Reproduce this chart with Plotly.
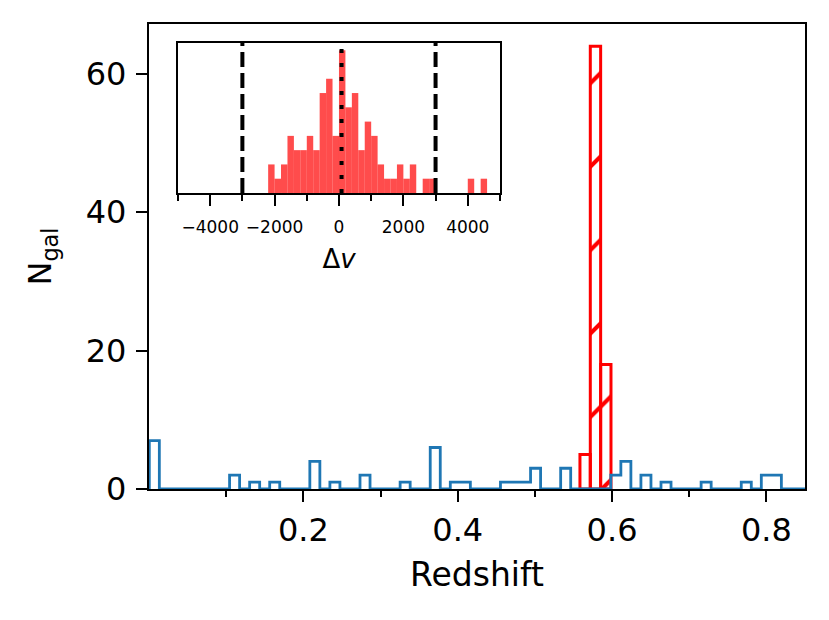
import plotly.graph_objects as go

# ---------------- data ----------------
# Main panel: redshift histogram of all galaxies (step outline)
BLUE_BIN_START = 0.0004
BLUE_BIN_WIDTH = 0.013
blue_counts = [7, 0, 0, 0, 0, 0, 0, 0, 2, 0,
               1, 0, 1, 0, 0, 0, 4, 0, 1, 0,
               0, 2, 0, 0, 0, 1, 0, 0, 6, 0,
               1, 1, 0, 0, 0, 1, 1, 1, 3, 0,
               0, 3, 0, 0, 0, 0, 2, 4, 0, 2,
               0, 1, 0, 0, 0, 1, 0, 0, 0, 1,
               0, 2, 2, 0, 0, 0]

# Cluster members (hatched red bars)
RED_BIN_START = 0.5584
RED_BIN_WIDTH = 0.0134
red_counts = [5, 64, 18]

# Inset: velocity offsets of members
DV_BIN_START = -2200
DV_BIN_WIDTH = 200
dv_counts = [2, 1, 2, 4, 3, 3, 4, 3, 7, 8,
             4, 10, 6, 7, 3, 5, 4, 2, 1, 1,
             2, 1, 2, 0, 1, 1, 0, 0, 0, 0,
             0, 1, 0, 1]
dv_limits = [-3000, 3000]
dv_mean = 80

x_ticks = [0.2, 0.4, 0.6, 0.8]
x_ticktext = ["0.2", "0.4", "0.6", "0.8"]
x_minor = [0.1, 0.3, 0.5, 0.7]
y_ticks = [0, 20, 40, 60]
dv_ticks = [-4000, -2000, 0, 2000, 4000]
dv_ticktext = ["\u22124000", "\u22122000", "0", "2000", "4000"]
dv_minor = [-5000, -3000, -1000, 1000, 3000, 5000]

# ---------------- build ----------------
blue_edges = [BLUE_BIN_START + i * BLUE_BIN_WIDTH for i in range(len(blue_counts) + 1)]
step_x = [blue_edges[0]]
step_y = [0]
for i, c in enumerate(blue_counts):
    step_x.append(blue_edges[i])
    step_y.append(c)
step_x.append(blue_edges[-1])
step_y.append(blue_counts[-1])
step_x.append(blue_edges[-1])
step_y.append(0)

red_centers = [RED_BIN_START + (i + 0.5) * RED_BIN_WIDTH for i in range(len(red_counts))]
dv_centers = [DV_BIN_START + (i + 0.5) * DV_BIN_WIDTH for i in range(len(dv_counts))]

FONT = "DejaVu Sans"

fig = go.Figure()
fig.add_trace(go.Scatter(
    x=step_x, y=step_y, mode="lines", line=dict(color="#1f77b4", width=2.8, shape="hv"),
    xaxis="x", yaxis="y", showlegend=False, hoverinfo="skip"))
fig.add_trace(go.Bar(
    x=red_centers, y=red_counts, width=RED_BIN_WIDTH, xaxis="x", yaxis="y",
    marker=dict(color="rgba(0,0,0,0)", line=dict(color="#ff0000", width=3),
                pattern=dict(shape="/", fgcolor="#ff0000", bgcolor="rgba(0,0,0,0)",
                             size=59, solidity=0.07, fillmode="overlay", fgopacity=1)),
    showlegend=False))
fig.add_trace(go.Bar(
    x=dv_centers, y=dv_counts, width=DV_BIN_WIDTH, xaxis="x2", yaxis="y2",
    marker=dict(color="rgba(255,0,0,0.7)", line=dict(width=0)),
    showlegend=False))

shapes = []
for v in dv_limits:
    shapes.append(dict(type="line", xref="x2", yref="y2 domain", x0=v, x1=v, y0=0, y1=1,
                       line=dict(color="black", width=4, dash="15px,6px"), layer="above"))
shapes.append(dict(type="line", xref="x2", yref="y2 domain", x0=dv_mean, x1=dv_mean, y0=0, y1=1,
                   line=dict(color="black", width=4, dash="4px,10px"), layer="above"))

axis_common = dict(showline=True, linecolor="black", linewidth=2.4, mirror=True,
                   showgrid=False, zeroline=False, ticks="outside", tickcolor="black",
                   tickwidth=2.2, automargin=False)

# The page body adds an 8px offset, compensated in the margins
fig.update_layout(
    width=829, height=620,
    margin=dict(l=141, r=32, t=16, b=139, pad=0),
    paper_bgcolor="white", plot_bgcolor="white",
    barmode="overlay",
    font=dict(family=FONT, color="black"),
    shapes=shapes,
    xaxis=dict(**axis_common, domain=[0, 1], range=[0, 0.85],
               tickvals=x_ticks, ticktext=x_ticktext, ticklen=11,
               tickfont=dict(size=32), ticklabelstandoff=0,
               minor=dict(tickvals=x_minor, ticks="outside", ticklen=6, tickwidth=2.2,
                          tickcolor="black", showgrid=False),
               title=dict(text="Redshift", font=dict(size=33), standoff=15),
               anchor="y"),
    yaxis=dict(**axis_common, domain=[0, 1], range=[0, 67.2],
               tickvals=y_ticks, ticklen=11, tickfont=dict(size=32), ticklabelstandoff=3,
               title=dict(text="N<sub>gal</sub>", font=dict(size=32), standoff=24),
               anchor="x"),
    xaxis2=dict(**axis_common, domain=[0.0442, 0.535], range=[-5000, 5000],
                tickvals=dv_ticks, ticktext=dv_ticktext, ticklen=11,
                tickfont=dict(size=17), ticklabelstandoff=6,
                minor=dict(tickvals=dv_minor, ticks="outside", ticklen=6, tickwidth=2.2,
                           tickcolor="black", showgrid=False),
                title=dict(text="\u0394<i>v</i>", font=dict(size=26), standoff=14),
                anchor="y2"),
    yaxis2=dict(showline=True, linecolor="black", linewidth=2.4, mirror=True,
                showgrid=False, zeroline=False, ticks="", showticklabels=False,
                automargin=False,
                domain=[0.6366, 0.959], range=[0, 10.5], anchor="x2"),
)

fig.write_html("out.html")
